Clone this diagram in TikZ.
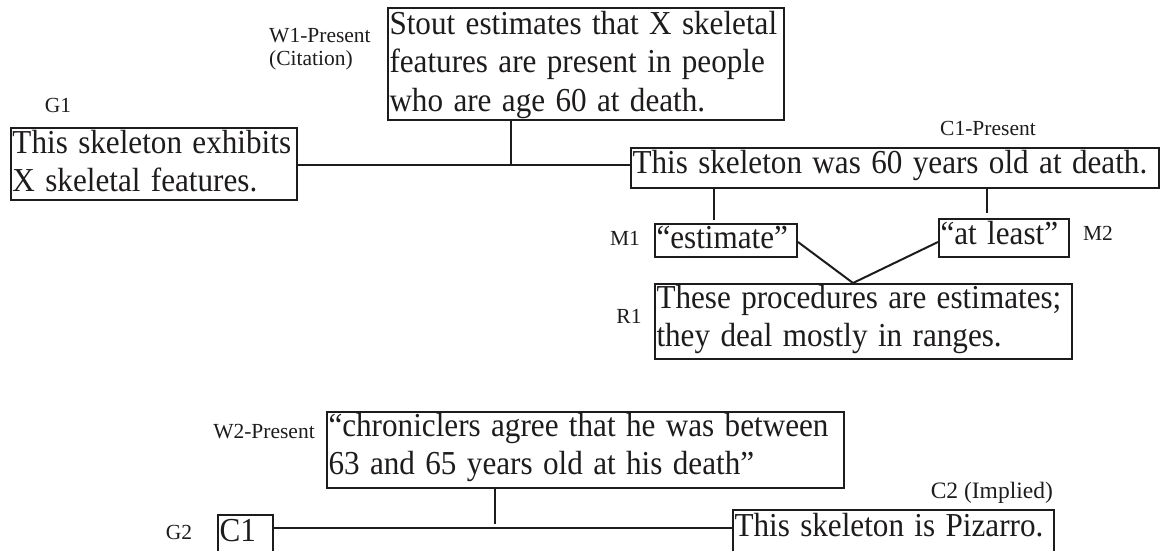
\documentclass[tikz,border=0pt]{standalone}
\usepackage{fontspec}
\usepackage{graphicx}
\setmainfont{Liberation Serif}
\definecolor{ink}{RGB}{30,27,28}
\newcommand{\boxfont}{\fontsize{33.5}{38.5}\selectfont}
\newcommand{\tagfont}{\fontsize{21.5}{23}\selectfont}
% slightly condensed, left-aligned lines of a claim box
\newcommand{\claimlines}[1]{\scalebox{0.93}[1]{\begin{tabular}[t]{@{}l@{}}#1\end{tabular}}}

\begin{document}
\begin{tikzpicture}[x=1pt,y=-1pt,
  claim/.style={draw=ink, text=ink, line width=2pt, anchor=north west,
    align=left, inner xsep=1.5pt, inner ysep=0pt, font=\boxfont},
  tag/.style={text=ink, font=\tagfont, inner sep=0pt, anchor=base},
  link/.style={draw=ink, line width=2pt}]

\useasboundingbox (0,0) rectangle (1161,550);
\clip (0,0) rectangle (1161,550);

% argument boxes
\node[claim, text width=393pt, text height=26pt, text depth=86pt] (w1) at (387,7)
  {\claimlines{Stout estimates that X skeletal\\features are present in people\\who are age 60 at death.}};
\node[claim, text width=283pt, text height=25pt, text depth=47pt] (g1) at (10,127)
  {\claimlines{This skeleton exhibits\\X skeletal features.}};
\node[claim, text width=525pt, text height=25pt, text depth=15pt] (c1) at (630,147)
  {\claimlines{This skeleton was 60 years old at death.}};
\node[claim, text width=139pt, text height=24pt, text depth=9pt] (m1) at (654,223)
  {\claimlines{“estimate”}};
\node[claim, text width=127pt, text height=25pt, text depth=13pt] (m2) at (938,218)
  {\claimlines{“at least”}};
\node[claim, text width=414pt, text height=24pt, text depth=51pt] (r1) at (654,283)
  {\claimlines{These procedures are estimates;\\they deal mostly in ranges.}};
\node[claim, text width=514pt, text height=24pt, text depth=52pt] (w2) at (326,411)
  {\claimlines{“chroniclers agree that he was between\\63 and 65 years old at his death”}};
\node[claim, text width=52pt, text height=26pt, text depth=50pt] (g2) at (217,514)
  {\claimlines{C1}};
\node[claim, text width=318pt, text height=26pt, text depth=50pt] (c2) at (732,509)
  {\claimlines{This skeleton is Pizarro.}};

% labels
\node[tag, anchor=base west, align=left] (w1tag) at (269,65) {W1-Present\\(Citation)};
\node[tag] (g1tag) at (58,112) {G1};
\node[tag] (c1tag) at (988,135) {C1-Present};
\node[tag] (m1tag) at (625,245) {M1};
\node[tag] (m2tag) at (1098,240) {M2};
\node[tag] (r1tag) at (629,323) {R1};
\node[tag] (w2tag) at (264,438) {W2-Present};
\node[tag] (g2tag) at (179,539) {G2};
\node[tag, anchor=base east, font=\fontsize{23.5}{26}\selectfont] (c2tag) at (1053,498) {C2 (Implied)};

% connectors, first argument
\coordinate (j1) at (511,165);
\draw[link] (g1.east |- j1) -- (c1.west |- j1);
\draw[link] (w1.south -| j1) -- (j1);
\coordinate (m1x) at (714,0);
\coordinate (m2x) at (987,0);
\draw[link, shorten >=3pt] (c1.south -| m1x) -- (m1.north -| m1x);
\draw[link, shorten >=5pt] (c1.south -| m2x) -- (m2.north -| m2x);
\coordinate (rj) at (853,283);
\draw[link] ([yshift=-1.5pt]m1.east) -- (r1.north -| rj) -- ([yshift=-4pt]m2.west);

% connectors, second argument
\coordinate (j2) at (495,528);
\draw[link] (g2.east |- j2) -- (c2.west |- j2);
\draw[link, shorten >=4pt] (w2.south -| j2) -- (j2);
\end{tikzpicture}
\end{document}
